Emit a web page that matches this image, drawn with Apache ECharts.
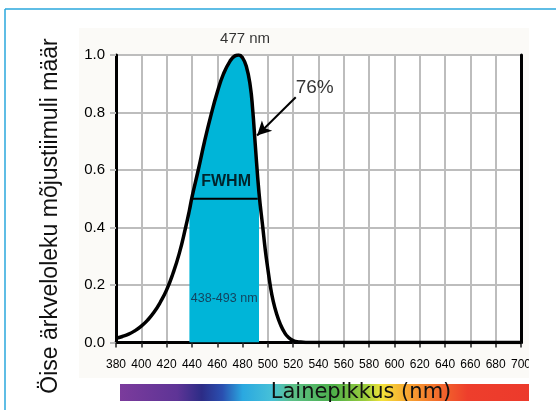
<!doctype html>
<html>
    <head>
        <meta charset="utf-8">
        <title>Öise ärkveloleku mõjustiimuli määr</title>
        <style>
            html, body { margin: 0; padding: 0; background: #fff; }
            #main { width: 556px; height: 410px; }
        </style>
    </head>
    <body>
        <div id="main"></div>
        <script src="https://cdn.jsdelivr.net/npm/echarts@6/dist/echarts.min.js"></script>
        <script>
            // spectrum (nm, relative value)
            var wavelengths = [380, 385, 390, 395, 400, 405, 410, 415, 420, 425, 430, 435, 438, 440, 445, 450, 455, 460, 465, 470, 474, 477, 480, 483, 486, 488, 490, 493, 496, 498, 500, 502, 504, 507, 510, 513, 516, 520, 525, 530, 700];
            var response = [0.015, 0.021, 0.029, 0.041, 0.057, 0.078, 0.105, 0.14, 0.183, 0.24, 0.31, 0.40, 0.46, 0.505, 0.60, 0.70, 0.79, 0.87, 0.935, 0.978, 0.997, 1.0, 0.99, 0.96, 0.895, 0.81, 0.69, 0.52, 0.40, 0.32, 0.255, 0.195, 0.148, 0.098, 0.062, 0.036, 0.019, 0.007, 0.002, 0, 0];

            var peakNm = 477;
            var fwhmRange = [438, 493];
            var halfMax = 0.5;
            var fwhmEnds = [439.5, 492];
            var arrowFrom = [522, 0.853];
            var arrowTo = [491.5, 0.72];

            var xTicks = [380, 700, 20];
            var yTicks = [0, 1, 0.2];

            var yTitle = 'Öise ärkveloleku mõjustiimuli määr';
            var xTitle = 'Lainepikkus (nm)';

            var sans = "'Liberation Sans', Arial, sans-serif";

            var curve = wavelengths.map(function (w, i) { return [w, response[i]]; });
            var band = curve.filter(function (p) { return p[0] >= fwhmRange[0] && p[0] <= fwhmRange[1]; });

            var chart = echarts.init(document.getElementById('main'));

            chart.setOption({
                animation: false,
                grid: {
                    left: 116, right: 35, top: 55, bottom: 67.5,
                    show: true,
                    backgroundColor: '#fff',
                    borderWidth: 0
                },
                xAxis: [{
                    type: 'value',
                    min: xTicks[0], max: xTicks[1], interval: xTicks[2],
                    axisLine: { lineStyle: { color: '#000', width: 3 } },
                    axisTick: { show: true, length: 5, lineStyle: { color: '#222', width: 1.5 } },
                    axisLabel: { margin: 16, fontSize: 12, color: '#000', fontFamily: sans },
                    splitLine: { show: true, lineStyle: { color: '#bdbdbd', width: 2 } }
                }, {
                    type: 'value', position: 'top',
                    min: xTicks[0], max: xTicks[1], interval: xTicks[2],
                    axisLine: { show: true, lineStyle: { color: '#000', width: 3 } },
                    axisTick: { show: false }, axisLabel: { show: false }, splitLine: { show: false }
                }],
                yAxis: [{
                    type: 'value',
                    min: yTicks[0], max: yTicks[1], interval: yTicks[2],
                    axisLine: { show: true, lineStyle: { color: '#000', width: 3 } },
                    axisTick: { show: true, length: 6, lineStyle: { color: '#bdbdbd', width: 2 } },
                    axisLabel: {
                        margin: 11, fontSize: 15, color: '#000', fontFamily: sans,
                        formatter: function (v) { return v.toFixed(1); }
                    },
                    splitLine: { show: true, lineStyle: { color: '#bdbdbd', width: 2 } }
                }, {
                    type: 'value', position: 'right',
                    min: yTicks[0], max: yTicks[1], interval: yTicks[2],
                    axisLine: { show: true, lineStyle: { color: '#000', width: 3 } },
                    axisTick: { show: false }, axisLabel: { show: false }, splitLine: { show: false }
                }],
                series: [{
                    name: 'band',
                    type: 'line',
                    data: band,
                    smooth: 0.5,
                    symbol: 'none',
                    lineStyle: { width: 0 },
                    areaStyle: { color: '#00b5d8', opacity: 1 },
                    z: 3
                }, {
                    name: 'fwhm',
                    type: 'line',
                    data: [[fwhmEnds[0], halfMax], [fwhmEnds[1], halfMax]],
                    symbol: 'none',
                    lineStyle: { color: '#000', width: 2 },
                    z: 4
                }, {
                    name: 'curve',
                    type: 'line',
                    data: curve,
                    smooth: 0.5,
                    symbol: 'none',
                    lineStyle: { color: '#000', width: 3.5 },
                    z: 5,
                    markLine: {
                        silent: true,
                        symbol: ['none', 'arrow'],
                        symbolSize: [11, 14],
                        label: { show: false },
                        lineStyle: { color: '#000', width: 2, type: 'solid' },
                        data: [[{ coord: arrowFrom }, { coord: arrowTo }]]
                    }
                }, {
                    name: 'notes',
                    type: 'scatter',
                    symbolSize: 0,
                    clip: false,
                    z: 6,
                    label: { show: true, position: 'inside', fontFamily: sans, color: '#000' },
                    data: [
                        { value: [482, 1.055], label: { formatter: peakNm + ' nm', fontSize: 15 } },
                        { value: [537, 0.885], label: { formatter: '76%', fontSize: 19 } },
                        { value: [467, 0.559], label: { formatter: 'FWHM', fontSize: 16, fontWeight: 'bold' } },
                        { value: [465.5, 0.153], label: { formatter: fwhmRange[0] + '-' + fwhmRange[1] + ' nm', fontSize: 12.5, color: '#16263f' } }
                    ]
                }],
                graphic: [{
                    type: 'rect', z: -100,
                    shape: { x: 79, y: 28, width: 450, height: 350 },
                    style: { fill: '#fbfaf7' }
                }, {
                    type: 'rect', z: 100,
                    shape: { x: 529, y: 11, width: 30, height: 400 },
                    style: { fill: '#fff' }
                }, {
                    type: 'line', z: 101,
                    shape: { x1: 5, y1: 9, x2: 556, y2: 9 },
                    style: { stroke: '#2aa7dd', lineWidth: 1.5 }
                }, {
                    type: 'line', z: 101,
                    shape: { x1: 5, y1: 9, x2: 5, y2: 410 },
                    style: { stroke: '#2aa7dd', lineWidth: 1.5 }
                }, {
                    type: 'rect', z: 100,
                    shape: { x: 120, y: 384, width: 409, height: 17 },
                    style: {
                        fill: new echarts.graphic.LinearGradient(0, 0, 1, 0, [
                            { offset: 0.00, color: '#7b3b9c' },
                            { offset: 0.14, color: '#5e3496' },
                            { offset: 0.20, color: '#2c2c86' },
                            { offset: 0.25, color: '#2a4fb0' },
                            { offset: 0.30, color: '#2aa8e0' },
                            { offset: 0.37, color: '#46c0d8' },
                            { offset: 0.42, color: '#5cc08a' },
                            { offset: 0.52, color: '#4db04a' },
                            { offset: 0.60, color: '#9ccd3c' },
                            { offset: 0.64, color: '#f2e23a' },
                            { offset: 0.70, color: '#f8a832' },
                            { offset: 0.78, color: '#f26a2c' },
                            { offset: 0.85, color: '#ee3e2c' },
                            { offset: 1.00, color: '#ec3a2c' }
                        ])
                    }
                }, {
                    type: 'text', z: 102,
                    x: 361, y: 393,
                    style: {
                        text: xTitle,
                        fontFamily: 'DejaVu Sans',
                        fontSize: 21,
                        fill: '#111',
                        align: 'center',
                        verticalAlign: 'middle'
                    }
                }, {
                    type: 'text', z: 102,
                    x: 51, y: 216,
                    rotation: Math.PI / 2,
                    style: {
                        text: yTitle,
                        fontFamily: 'Liberation Sans',
                        fontSize: 23,
                        fill: '#111',
                        align: 'center',
                        verticalAlign: 'middle'
                    }
                }]
            });

            window.addEventListener('resize', function () {
                chart.resize();
            });
        </script>
    </body>
</html>
